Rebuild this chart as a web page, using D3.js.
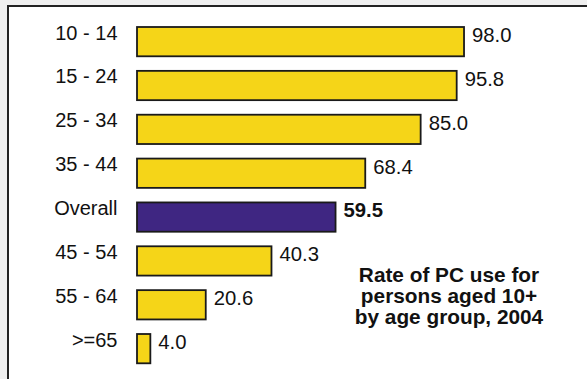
<!DOCTYPE html>
<html>
<head>
<meta charset="utf-8">
<script src="https://cdn.jsdelivr.net/npm/d3@7/dist/d3.min.js"></script>
<style>
  html, body { margin: 0; padding: 0; background: #efefef; }
  svg { display: block; }
  text { font-family: "Liberation Sans", Arial, sans-serif; }
</style>
</head>
<body>
<svg id="chart" width="587" height="379"></svg>
<script>
const categories = ["10 - 14", "15 - 24", "25 - 34", "35 - 44", "Overall", "45 - 54", "55 - 64", ">=65"];
const values = [98.0, 95.8, 85.0, 68.4, 59.5, 40.3, 20.6, 4.0];
const valueLabels = ["98.0", "95.8", "85.0", "68.4", "59.5", "40.3", "20.6", "4.0"];
const highlighted = ["Overall"];
const titleLines = ["Rate of PC use for", "persons aged 10+", "by age group, 2004"];

const W = 587, H = 379;
const svg = d3.select("#chart");

// panel
svg.append("rect").attr("x", 0).attr("y", 0).attr("width", W).attr("height", H).attr("fill", "#efefef");
svg.append("rect").attr("x", 8).attr("y", 6).attr("width", W + 10).attr("height", H + 10)
  .attr("fill", "#ffffff").attr("stroke", "#222").attr("stroke-width", 2);

const x = d3.scaleLinear().domain([0, 100]).range([137, 470.7]);
const y = d3.scaleBand().domain(categories).range([27, 363.3]).paddingInner(0.332).paddingOuter(0);

const data = categories.map((c, i) => ({ c, v: values[i], lab: valueLabels[i], hi: highlighted.includes(c) }));

svg.selectAll("rect.bar").data(data).join("rect")
  .attr("class", "bar")
  .attr("x", x(0))
  .attr("y", d => y(d.c))
  .attr("width", d => x(d.v) - x(0))
  .attr("height", y.bandwidth())
  .attr("fill", d => d.hi ? "#3f2682" : "#f5d518")
  .attr("stroke", "#1a1a1a")
  .attr("stroke-width", 1.8);

// category labels
svg.selectAll("text.cat").data(data).join("text")
  .attr("class", "cat")
  .attr("x", 117.5)
  .attr("y", d => y(d.c) + 12.5)
  .attr("text-anchor", "end")
  .attr("font-size", 20)
  .attr("fill", "#111")
  .text(d => d.c);

// value labels
svg.selectAll("text.val").data(data).join("text")
  .attr("class", "val")
  .attr("x", d => x(d.v) + 8)
  .attr("y", d => y(d.c) + 15)
  .attr("font-size", 20.3)
  .attr("font-weight", d => d.hi ? "bold" : "normal")
  .attr("fill", "#111")
  .text(d => d.lab);

// title
const t = svg.append("text")
  .attr("x", 449)
  .attr("y", 282)
  .attr("text-anchor", "middle")
  .attr("font-size", 20.8)
  .attr("font-weight", "bold")
  .attr("fill", "#111");
titleLines.forEach((line, i) => {
  t.append("tspan").attr("x", 449).attr("dy", i === 0 ? 0 : 21).text(line);
});
</script>
</body>
</html>
